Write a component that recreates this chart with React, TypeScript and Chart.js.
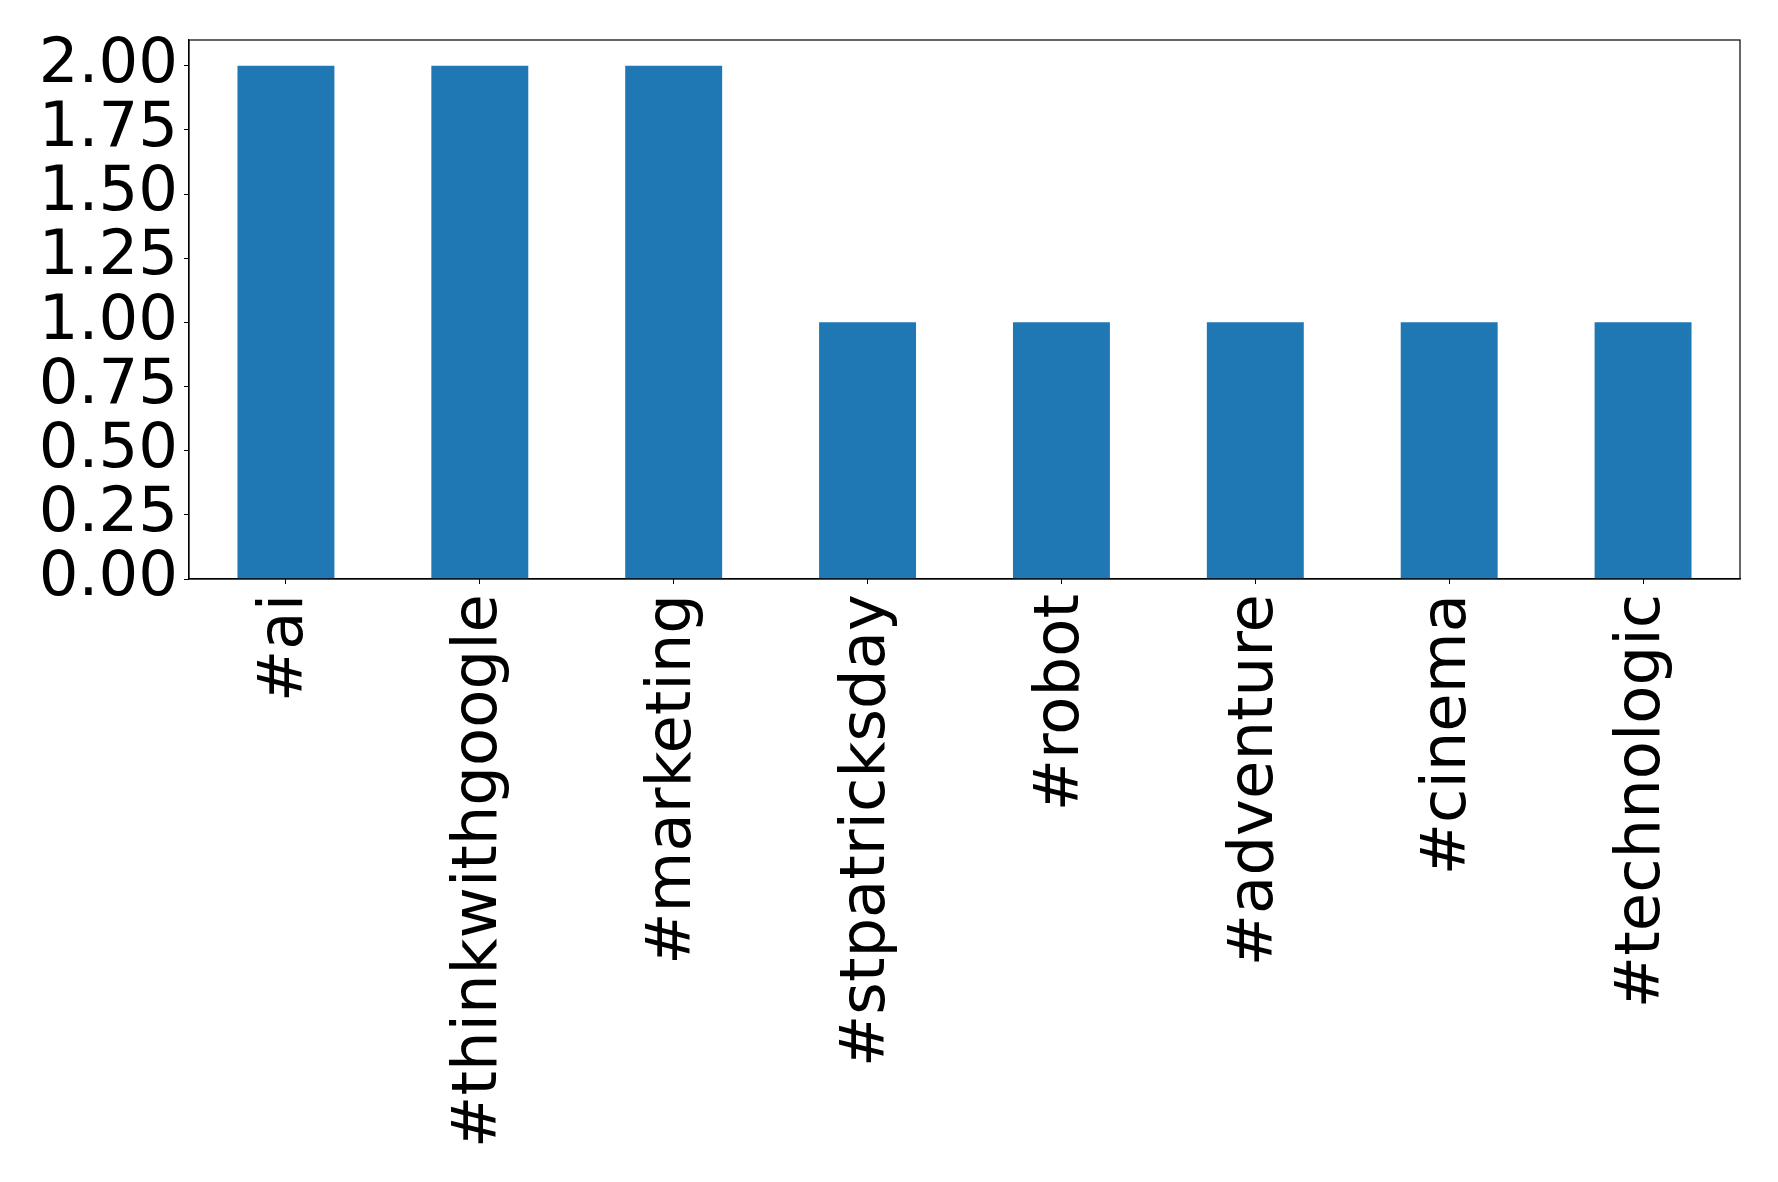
import React, { useEffect, useRef } from "react";
import { Chart, registerables } from "chart.js";

Chart.register(...registerables);

const categories = [
  "#ai",
  "#thinkwithgoogle",
  "#marketing",
  "#stpatricksday",
  "#robot",
  "#adventure",
  "#cinema",
  "#technologic",
];
const counts = [2, 2, 2, 1, 1, 1, 1, 1];
const yMin = 0;
const yMax = 2.1;
const yStep = 0.25;
const yTickMax = 2.0;

const framePlugin = {
  id: "frame",
  afterDraw(chart: any) {
    const { ctx, chartArea } = chart;
    ctx.save();
    ctx.strokeStyle = "#000";
    ctx.lineWidth = 1.2;
    ctx.strokeRect(chartArea.left, chartArea.top, chartArea.right - chartArea.left, chartArea.bottom - chartArea.top);
    ctx.restore();
  },
};

export default function App() {
  const ref = useRef<HTMLCanvasElement | null>(null);
  useEffect(() => {
    if (!ref.current) return;
    const font = { family: "'DejaVu Sans', sans-serif", size: 62.5 };
    const chart = new Chart(ref.current, {
      type: "bar",
      data: {
        labels: categories,
        datasets: [
          {
            data: counts,
            backgroundColor: "#1f77b4",
            borderWidth: 0,
            barPercentage: 0.5,
            categoryPercentage: 1,
          },
        ],
      },
      options: {
        animation: false,
        responsive: false,
        devicePixelRatio: 1,
        layout: { padding: { left: 0, top: 40, right: 38, bottom: 0 } },
        plugins: { legend: { display: false }, tooltip: { enabled: false } },
        scales: {
          x: {
            offset: true,
            grid: {
              display: true,
              drawOnChartArea: false,
              drawTicks: true,
              tickLength: 5,
              color: "#000",
              offset: false,
            },
            border: { display: true, color: "#000", width: 1.2 },
            ticks: {
              color: "#000",
              font,
              maxRotation: 90,
              minRotation: 90,
              padding: 10,
              autoSkip: false,
            },
            afterFit(scale: any) {
              scale.height = 603;
            },
          },
          y: {
            min: yMin,
            max: yMax,
            grid: {
              display: true,
              drawOnChartArea: false,
              drawTicks: true,
              tickLength: 5,
              color: "#000",
            },
            border: { display: true, color: "#000", width: 1.2 },
            ticks: {
              color: "#000",
              font,
              stepSize: yStep,
              padding: 6,
              autoSkip: false,
              callback: (v: any) => Number(v).toFixed(2),
            },
            afterBuildTicks(scale: any) {
              const t = [];
              for (let v = yMin; v <= yTickMax + 1e-4; v += yStep) t.push({ value: v });
              scale.ticks = t;
            },
            afterFit(scale: any) {
              scale.width = 189;
              scale.paddingTop = 0;
              scale.paddingBottom = 0;
            },
          },
        },
      },
      plugins: [framePlugin],
    });
    return () => chart.destroy();
  }, []);
  return (
    <div style={{ position: "absolute", left: 0, top: 0, width: 1778, height: 1182, background: "#fff" }}>
      <canvas ref={ref} width={1778} height={1182} style={{ display: "block" }} />
    </div>
  );
}
